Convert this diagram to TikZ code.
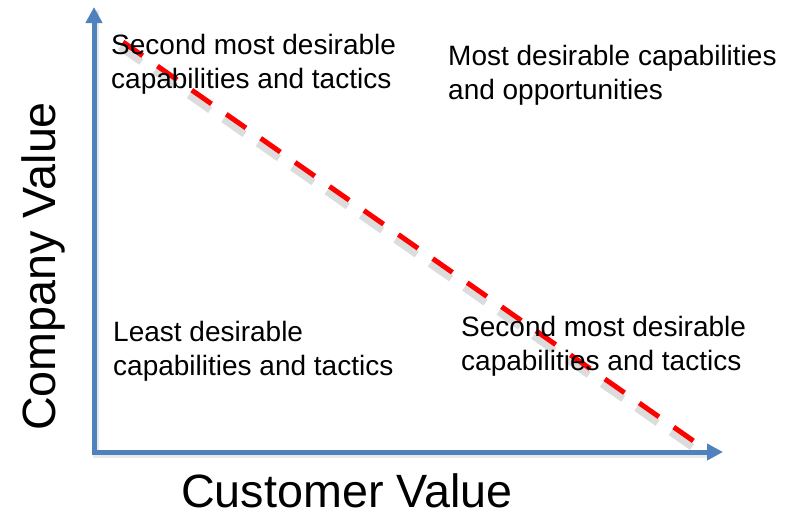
\documentclass[tikz,border=0pt]{standalone}
\usepackage{fontspec}
\setmainfont{Liberation Sans}
\usetikzlibrary{arrows.meta}
\definecolor{axisblue}{HTML}{4F81BD}
\definecolor{dashred}{HTML}{FF0000}
\tikzset{
  axisline/.style={draw=axisblue, line width=5pt, line join=miter,
    {Triangle[length=16pt,width=16pt]}-{Triangle[length=16pt,width=16pt]}},
  axisshadow/.style={draw=black!25, line width=6pt, opacity=0.35, line join=miter},
  redline/.style={draw=dashred, line width=5pt, dash pattern=on 24pt off 18pt},
  redshadow/.style={draw=black!45, line width=7pt, opacity=0.3, dash pattern=on 26pt off 16pt},
  quadlabel/.style={anchor=base west, inner sep=0pt, align=left,
    font=\fontsize{28}{34}\selectfont},
  axislabel/.style={anchor=base west, inner sep=0pt,
    font=\fontsize{46.7}{54}\selectfont}
}
\begin{document}
\begin{tikzpicture}[x=1pt,y=-1pt]
\useasboundingbox (0,0) rectangle (794,515);
\coordinate (ytip) at (94,7);
\coordinate (origin) at (94,452);
\coordinate (xtip) at (723,452);
\coordinate (dstart) at (123,42);
\coordinate (dend) at (695,442);
% shadows
\draw[axisshadow] ([shift={(2,3)}]ytip) |- ([shift={(-14,3)}]xtip);
\draw[redshadow] ([shift={(-3,5)}]dstart) -- ([shift={(-3,5)}]dend);
% axes
\draw[axisline] (ytip) |- (xtip);
% dashed diagonal
\draw[redline] (dstart) -- (dend);
% labels (anchor is the baseline of the last line)
\node[quadlabel] (tl) at (111,88.3) {Second most desirable\\capabilities and tactics};
\node[quadlabel] (tr) at (448,99.5) {Most desirable capabilities\\and opportunities};
\node[quadlabel] (bl) at (113,375.5) {Least desirable\\capabilities and tactics};
\node[quadlabel] (br) at (461,370.5) {Second most desirable\\capabilities and tactics};
\node[axislabel] (xlab) at (181,507.5) {Customer Value};
\node[axislabel, rotate=90] (ylab) at (55,431) {Company Value};
\end{tikzpicture}
\end{document}
